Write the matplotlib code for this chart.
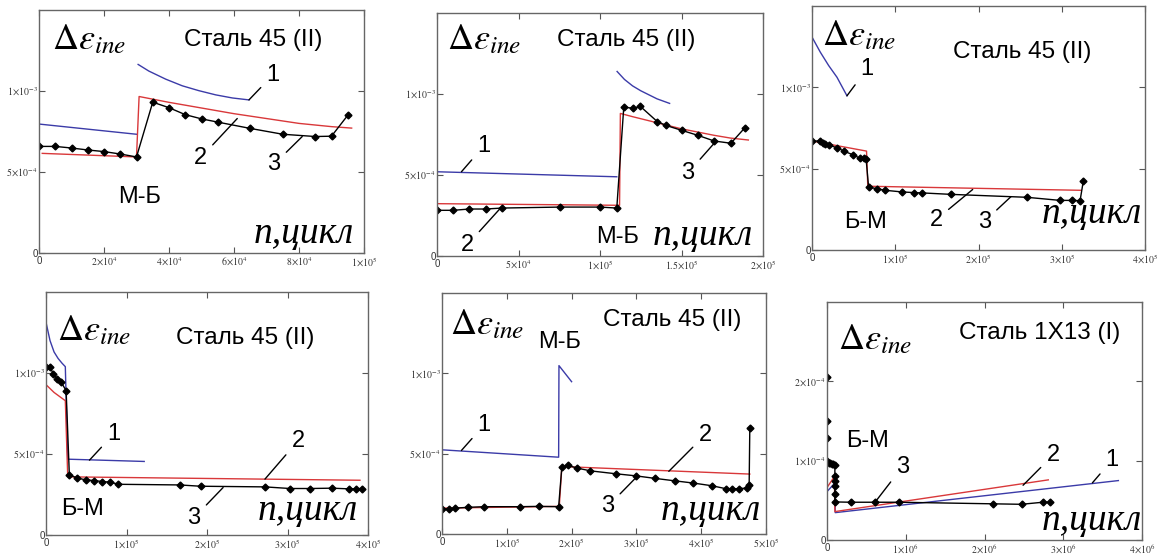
import numpy as np
import matplotlib
matplotlib.use("Agg")
import matplotlib.pyplot as plt

plt.rcParams['mathtext.fontset'] = 'stix'
plt.rcParams['font.family'] = ['Liberation Sans', 'DejaVu Sans']

BLUE = '#3b3ba8'
RED = '#d9383a'

# ---- panel 1 : Сталь 45 (II), М-Б ----
p1_blue_x = [[0, 3.0e4], [3.05e4, 3.38e4, 3.9e4, 4.41e4, 4.92e4, 5.44e4, 5.95e4, 6.46e4]]
p1_blue_y = [[0.796e-3, 0.733e-3], [1.164e-3, 1.123e-3, 1.073e-3, 1.032e-3, 1.002e-3, 0.976e-3, 0.957e-3, 0.945e-3]]
p1_red_x = [0.1e4, 3.0e4, 3.08e4, 4e4, 5e4, 6e4, 7e4, 8e4, 9e4, 9.62e4]
p1_red_y = [0.615e-3, 0.593e-3, 0.966e-3, 0.93e-3, 0.895e-3, 0.86e-3, 0.83e-3, 0.80e-3, 0.78e-3, 0.771e-3]
p1_exp_x = [0, 0.5e4, 1e4, 1.5e4, 2e4, 2.5e4, 3e4, 3.5e4, 4e4, 4.5e4, 5e4, 5.5e4, 6.5e4, 7.5e4, 8.5e4, 9e4, 9.5e4]
p1_exp_y = [0.658e-3, 0.658e-3, 0.648e-3, 0.636e-3, 0.626e-3, 0.611e-3, 0.593e-3, 0.931e-3, 0.897e-3,
            0.854e-3, 0.828e-3, 0.808e-3, 0.769e-3, 0.733e-3, 0.719e-3, 0.721e-3, 0.850e-3]

# ---- panel 2 : Сталь 45 (II), М-Б ----
p2_blue_x = [[0, 11.03e4], [11.05e4, 11.5e4, 12e4, 12.5e4, 13e4, 13.5e4, 14.27e4]]
p2_blue_y = [[0.520e-3, 0.489e-3], [1.139e-3, 1.09e-3, 1.05e-3, 1.02e-3, 0.995e-3, 0.97e-3, 0.942e-3]]
p2_red_x = [0, 11.2e4, 11.25e4, 12e4, 13e4, 14e4, 15e4, 16e4, 17e4, 18e4, 19.1e4]
p2_red_y = [0.323e-3, 0.313e-3, 0.88e-3, 0.86e-3, 0.835e-3, 0.81e-3, 0.785e-3, 0.765e-3, 0.745e-3, 0.728e-3, 0.716e-3]
p2_exp_x = [0, 0.99e4, 1.99e4, 2.98e4, 4.0e4, 7.54e4, 10.0e4, 11.03e4, 11.46e4, 12.0e4, 12.48e4,
            13.51e4, 14.02e4, 15.0e4, 16.0e4, 17.0e4, 18.03e4, 18.9e4]
p2_exp_y = [0.282e-3, 0.282e-3, 0.290e-3, 0.290e-3, 0.296e-3, 0.302e-3, 0.302e-3, 0.296e-3, 0.921e-3,
            0.911e-3, 0.923e-3, 0.830e-3, 0.807e-3, 0.776e-3, 0.745e-3, 0.710e-3, 0.696e-3, 0.793e-3]

# ---- panel 3 : Сталь 45 (II), Б-М ----
p3_blue_x = [[0, 0.1e5, 0.2e5, 0.3e5, 0.42e5]]
p3_blue_y = [[1.309e-3, 1.216e-3, 1.134e-3, 1.062e-3, 0.948e-3]]
p3_red_x = [0, 0.655e5, 0.67e5, 3.23e5]
p3_red_y = [0.670e-3, 0.608e-3, 0.392e-3, 0.367e-3]
p3_exp_x = [0, 0.1e5, 0.13e5, 0.16e5, 0.21e5, 0.3e5, 0.39e5, 0.49e5, 0.58e5, 0.62e5, 0.65e5, 0.68e5,
            0.78e5, 0.88e5, 1.08e5, 1.22e5, 1.32e5, 1.67e5, 2.58e5, 2.98e5, 3.12e5, 3.22e5, 3.26e5]
p3_exp_y = [0.670e-3, 0.670e-3, 0.660e-3, 0.654e-3, 0.643e-3, 0.629e-3, 0.606e-3, 0.586e-3, 0.563e-3,
            0.563e-3, 0.559e-3, 0.386e-3, 0.377e-3, 0.367e-3, 0.357e-3, 0.353e-3, 0.351e-3, 0.342e-3,
            0.324e-3, 0.305e-3, 0.305e-3, 0.303e-3, 0.427e-3]

# ---- panel 4 : Сталь 45 (II), Б-М ----
p4_blue_x = [[0, 0.05e5, 0.1e5, 0.15e5, 0.2e5, 0.24e5, 0.27e5, 1.22e5]]
p4_blue_y = [[1.313e-3, 1.2e-3, 1.13e-3, 1.09e-3, 1.06e-3, 1.039e-3, 0.468e-3, 0.454e-3]]
p4_red_x = [0, 0.1e5, 0.24e5, 0.27e5, 3.9e5]
p4_red_y = [0.928e-3, 0.88e-3, 0.829e-3, 0.359e-3, 0.338e-3]
p4_exp_x = [0, 0.05e5, 0.09e5, 0.14e5, 0.19e5, 0.25e5, 0.29e5, 0.39e5, 0.5e5, 0.6e5, 0.7e5, 0.8e5, 0.9e5,
            1.66e5, 1.92e5, 2.72e5, 3.03e5, 3.28e5, 3.55e5, 3.76e5, 3.85e5, 3.92e5]
p4_exp_y = [1.035e-3, 1.039e-3, 0.994e-3, 0.963e-3, 0.942e-3, 0.891e-3, 0.371e-3, 0.351e-3, 0.340e-3,
            0.336e-3, 0.330e-3, 0.326e-3, 0.313e-3, 0.309e-3, 0.301e-3, 0.297e-3, 0.287e-3, 0.287e-3,
            0.289e-3, 0.285e-3, 0.285e-3, 0.287e-3]

# ---- panel 5 : Сталь 45 (II), М-Б ----
p5_blue_x = [[0, 1.8e5, 1.805e5, 2.0e5]]
p5_blue_y = [[0.524e-3, 0.478e-3, 1.048e-3, 0.948e-3]]
p5_red_x = [0, 1.81e5, 1.85e5, 4.75e5]
p5_red_y = [0.161e-3, 0.172e-3, 0.420e-3, 0.373e-3]
p5_exp_x = [0, 0.11e5, 0.2e5, 0.4e5, 0.65e5, 1.2e5, 1.49e5, 1.8e5, 1.85e5, 1.94e5, 2.09e5, 2.29e5, 2.68e5,
            2.99e5, 3.29e5, 3.59e5, 3.88e5, 4.17e5, 4.38e5, 4.48e5, 4.58e5, 4.7e5, 4.74e5, 4.75e5]
p5_exp_y = [0.157e-3, 0.157e-3, 0.161e-3, 0.166e-3, 0.170e-3, 0.170e-3, 0.172e-3, 0.170e-3, 0.420e-3,
            0.427e-3, 0.410e-3, 0.393e-3, 0.375e-3, 0.362e-3, 0.346e-3, 0.331e-3, 0.317e-3, 0.300e-3,
            0.282e-3, 0.282e-3, 0.282e-3, 0.286e-3, 0.306e-3, 0.658e-3]

# ---- panel 6 : Сталь 1Х13 (I), Б-М ----
p6_blue_x = [[0, 0.098e6, 0.105e6, 3.7e6]]
p6_blue_y = [[0.61e-4, 0.716e-4, 0.345e-4, 0.749e-4]]
p6_red_x = [0, 0.094e6, 0.1e6, 2.81e6]
p6_red_y = [0.661e-4, 0.80e-4, 0.358e-4, 0.758e-4]
p6_exp_x = [0, 0, 0, 0, 0.02e6, 0.04e6, 0.06e6, 0.08e6, 0.1e6, 0.1e6, 0.1e6, 0.1e6, 0.1e6, 0.1e6,
            0.3e6, 0.61e6, 0.915e6, 2.11e6, 2.47e6, 2.74e6, 2.83e6]
p6_exp_y = [2.05e-4, 1.5e-4, 1.28e-4, 1.0e-4, 0.97e-4, 0.97e-4, 0.96e-4, 0.96e-4, 0.95e-4, 0.81e-4,
            0.74e-4, 0.68e-4, 0.58e-4, 0.48e-4, 0.476e-4, 0.476e-4, 0.476e-4, 0.456e-4, 0.45e-4,
            0.476e-4, 0.476e-4]

titles = ['Сталь 45 (II)'] * 5 + ['Сталь 1Х13 (I)']
trans_labels = ['М-Б', 'М-Б', 'Б-М', 'Б-М', 'М-Б', 'Б-М']

x_ticks = [[0, 2e4, 4e4, 6e4, 8e4, 1e5],
           [0, 5e4, 1e5, 1.5e5, 2e5],
           [0, 1e5, 2e5, 3e5, 4e5],
           [0, 1e5, 2e5, 3e5, 4e5],
           [0, 1e5, 2e5, 3e5, 4e5, 5e5],
           [0, 1e6, 2e6, 3e6, 4e6]]
x_ticklabels = [['0', r'$2\!\times\!10^{4}$', r'$4\!\times\!10^{4}$', r'$6\!\times\!10^{4}$', r'$8\!\times\!10^{4}$', r'$1\!\times\!10^{5}$'],
                ['0', r'$5\!\times\!10^{4}$', r'$1\!\times\!10^{5}$', r'$1.5\!\times\!10^{5}$', r'$2\!\times\!10^{5}$'],
                ['0', r'$1\!\times\!10^{5}$', r'$2\!\times\!10^{5}$', r'$3\!\times\!10^{5}$', r'$4\!\times\!10^{5}$'],
                ['0', r'$1\!\times\!10^{5}$', r'$2\!\times\!10^{5}$', r'$3\!\times\!10^{5}$', r'$4\!\times\!10^{5}$'],
                ['0', r'$1\!\times\!10^{5}$', r'$2\!\times\!10^{5}$', r'$3\!\times\!10^{5}$', r'$4\!\times\!10^{5}$', r'$5\!\times\!10^{5}$'],
                ['0', r'$1\!\times\!10^{6}$', r'$2\!\times\!10^{6}$', r'$3\!\times\!10^{6}$', r'$4\!\times\!10^{6}$']]
y_ticks = [[0, 5e-4, 1e-3]] * 5 + [[0, 1e-4, 2e-4]]
y_ticklabels = [['0', r'$5\!\times\!10^{-4}$', r'$1\!\times\!10^{-3}$']] * 5 + \
               [['0', r'$1\!\times\!10^{-4}$', r'$2\!\times\!10^{-4}$']]
y_max = [1.5e-3] * 5 + [3.0e-4]

blue_x = [p1_blue_x, p2_blue_x, p3_blue_x, p4_blue_x, p5_blue_x, p6_blue_x]
blue_y = [p1_blue_y, p2_blue_y, p3_blue_y, p4_blue_y, p5_blue_y, p6_blue_y]
red_x = [p1_red_x, p2_red_x, p3_red_x, p4_red_x, p5_red_x, p6_red_x]
red_y = [p1_red_y, p2_red_y, p3_red_y, p4_red_y, p5_red_y, p6_red_y]
exp_x = [p1_exp_x, p2_exp_x, p3_exp_x, p4_exp_x, p5_exp_x, p6_exp_x]
exp_y = [p1_exp_y, p2_exp_y, p3_exp_y, p4_exp_y, p5_exp_y, p6_exp_y]

# axes boxes in pixels: left, right, top, bottom
boxes = [(39, 364, 10, 253), (437, 763, 13, 256), (812, 1145, 6, 250),
         (46, 368, 292, 535), (442, 766, 293, 534), (827, 1142, 302, 540)]

# annotation: (label, curve point, label point) in data units
notes = [
    [('1', (6.46e4, 0.945e-3), (7.2e4, 1.10e-3)), ('2', (6.1e4, 0.83e-3), (4.97e4, 0.587e-3)),
     ('3', (8.1e4, 0.719e-3), (7.23e4, 0.547e-3))],
    [('1', (1.5e4, 0.52e-3), (2.87e4, 0.679e-3)), ('2', (3.9e4, 0.296e-3), (1.85e4, 0.068e-3)),
     ('3', (17.04e4, 0.70e-3), (15.4e4, 0.513e-3))],
    [('1', (0.42e5, 0.948e-3), (0.66e5, 1.113e-3)), ('2', (1.93e5, 0.372e-3), (1.49e5, 0.186e-3)),
     ('3', (2.39e5, 0.328e-3), (2.07e5, 0.175e-3))],
    [('1', (0.54e5, 0.462e-3), (0.84e5, 0.623e-3)), ('2', (2.72e5, 0.345e-3), (3.13e5, 0.581e-3)),
     ('3', (2.2e5, 0.293e-3), (1.84e5, 0.107e-3))],
    [('1', (0.3e5, 0.52e-3), (0.65e5, 0.679e-3)), ('2', (3.5e5, 0.39e-3), (4.06e5, 0.617e-3)),
     ('3', (3.02e5, 0.362e-3), (2.56e5, 0.172e-3))],
    [('1', (3.37e6, 0.72e-4), (3.62e6, 1.01e-4)), ('2', (2.49e6, 0.69e-4), (2.87e6, 1.07e-4)),
     ('3', (0.61e6, 0.476e-4), (0.96e6, 0.926e-4))],
]
trans_pos = [(3.08e4, 0.344e-3), (11.09e4, 0.12e-3), (0.64e5, 0.175e-3),
             (0.45e5, 0.159e-3), (1.82e5, 1.197e-3), (0.51e6, 1.242e-4)]
title_pos = [(0.66, 0.877), (0.58, 0.89), (0.63, 0.81), (0.62, 0.81), (0.71, 0.89), (0.676, 0.87)]
delta_pos = [(0.04, 0.84), (0.03, 0.85), (0.03, 0.84), (0.035, 0.80), (0.025, 0.83), (0.035, 0.80)]
ncyc_pos = [(0.97, 0.04), (0.97, 0.045), (0.99, 0.11), (0.97, 0.06), (0.985, 0.06), (1.0, 0.04)]

W, H = 1165, 558
fig = plt.figure(figsize=(W / 100, H / 100), dpi=100)

for i in range(6):
    l, r, t, b = boxes[i]
    ax = fig.add_axes([l / W, 1 - b / H, (r - l) / W, (b - t) / H])
    for bx, by in zip(blue_x[i], blue_y[i]):
        ax.plot(bx, by, color=BLUE, lw=1.0)
    ax.plot(red_x[i], red_y[i], color=RED, lw=1.0)
    ax.plot(exp_x[i], exp_y[i], color='black', lw=1.0, marker='D', ms=3.5)

    ax.set_xlim(0, x_ticks[i][-1])
    ax.set_ylim(0, y_max[i])
    ax.set_xticks(x_ticks[i])
    ax.set_xticklabels(x_ticklabels[i])
    ax.set_yticks(y_ticks[i])
    ax.set_yticklabels(y_ticklabels[i])
    ax.tick_params(direction='in', length=4, width=0.8, colors='#555555',
                   labelsize=7, labelcolor='#333333', top=True, right=True, pad=2)
    ax.tick_params(axis='y', pad=1)
    for sp in ax.spines.values():
        sp.set_color('#666666')
        sp.set_linewidth(1.0)

    for lab, xy, xyt in notes[i]:
        ax.annotate(lab, xy=xy, xytext=xyt, fontsize=17, ha='center', va='center',
                    arrowprops=dict(arrowstyle='-', lw=1.0, color='black', shrinkA=3, shrinkB=0))
    ax.text(trans_pos[i][0], trans_pos[i][1], trans_labels[i], fontsize=17, ha='center', va='center')
    ax.text(title_pos[i][0], title_pos[i][1], titles[i], fontsize=17.5, ha='center', va='center',
            transform=ax.transAxes)
    ax.text(delta_pos[i][0], delta_pos[i][1], r'$\Delta\varepsilon_{ine}$', fontsize=26,
            ha='left', va='baseline', transform=ax.transAxes)
    ax.text(ncyc_pos[i][0], ncyc_pos[i][1], 'n,цикл', fontsize=27, family='Liberation Serif',
            style='italic', ha='right', va='baseline', transform=ax.transAxes)

fig.savefig('out.png', dpi=100)
